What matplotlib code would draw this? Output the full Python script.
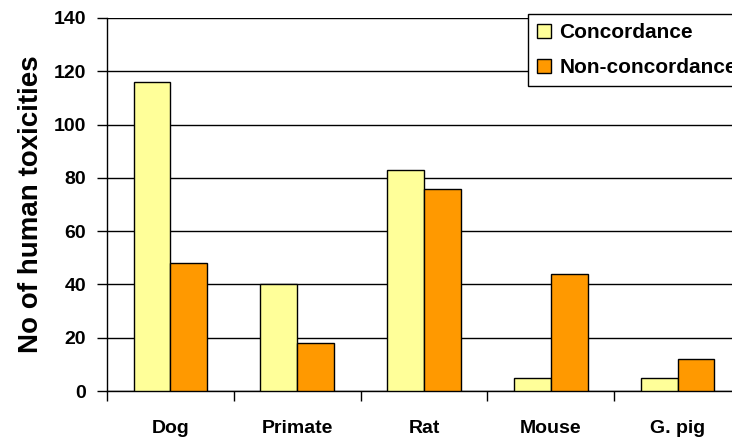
import numpy as np
import matplotlib
matplotlib.use("Agg")
import matplotlib.pyplot as plt

species = ["Dog", "Primate", "Rat", "Mouse", "G. pig"]
concordance = [116, 40, 83, 5, 5]
non_concordance = [48, 18, 76, 44, 12]
yticks = [0, 20, 40, 60, 80, 100, 120, 140]

plt.rcParams["font.family"] = ["Liberation Sans", "DejaVu Sans"]
plt.rcParams["font.weight"] = "bold"

W, H = 732, 441
fig = plt.figure(figsize=(W / 100, H / 100), dpi=100)
# plot area runs slightly past the right edge of the canvas
ax = fig.add_axes([107 / W, 50 / H, 634 / W, 373 / H])

x = np.arange(len(species))
bw = 0.29
ax.bar(x - bw / 2, concordance, bw, color="#FFFF99", edgecolor="black",
       linewidth=1, label="Concordance", zorder=3)
ax.bar(x + bw / 2, non_concordance, bw, color="#FF9900", edgecolor="black",
       linewidth=1, label="Non-concordance", zorder=3)

ax.set_ylim(0, 140)
ax.set_xlim(-0.5, len(species) - 0.5)
ax.set_yticks(yticks)
ax.yaxis.grid(True, color="black", linewidth=1)
ax.set_axisbelow(True)

# category labels centred, ticks on the category boundaries
ax.set_xticks(x)
ax.set_xticklabels(species, fontsize=14, fontweight="bold")
ax.set_xticks(np.arange(len(species) + 1) - 0.5, minor=True)
ax.tick_params(axis="x", which="major", length=0, pad=21)
ax.tick_params(axis="x", which="minor", length=7, width=1, direction="out")
ax.tick_params(axis="y", length=7, width=1, direction="out", pad=8, labelsize=14)

for s in ["top", "right"]:
    ax.spines[s].set_visible(False)
for s in ["left", "bottom"]:
    ax.spines[s].set_linewidth(1)

ax.set_ylabel("No of human toxicities", fontsize=20, fontweight="bold", labelpad=7)

handles, labels = ax.get_legend_handles_labels()
leg = fig.legend(handles, labels, loc="upper left",
                 bbox_to_anchor=(528 / W, 1 - 14 / H), borderaxespad=0,
                 fontsize=15, frameon=True, fancybox=False, framealpha=1,
                 edgecolor="black", handlelength=0.65, handleheight=0.65,
                 handletextpad=0.4, labelspacing=0.75, borderpad=0.45)
leg.get_frame().set_linewidth(1)
for t in leg.get_texts():
    t.set_fontweight("bold")

fig.savefig("out.png", dpi=100)
